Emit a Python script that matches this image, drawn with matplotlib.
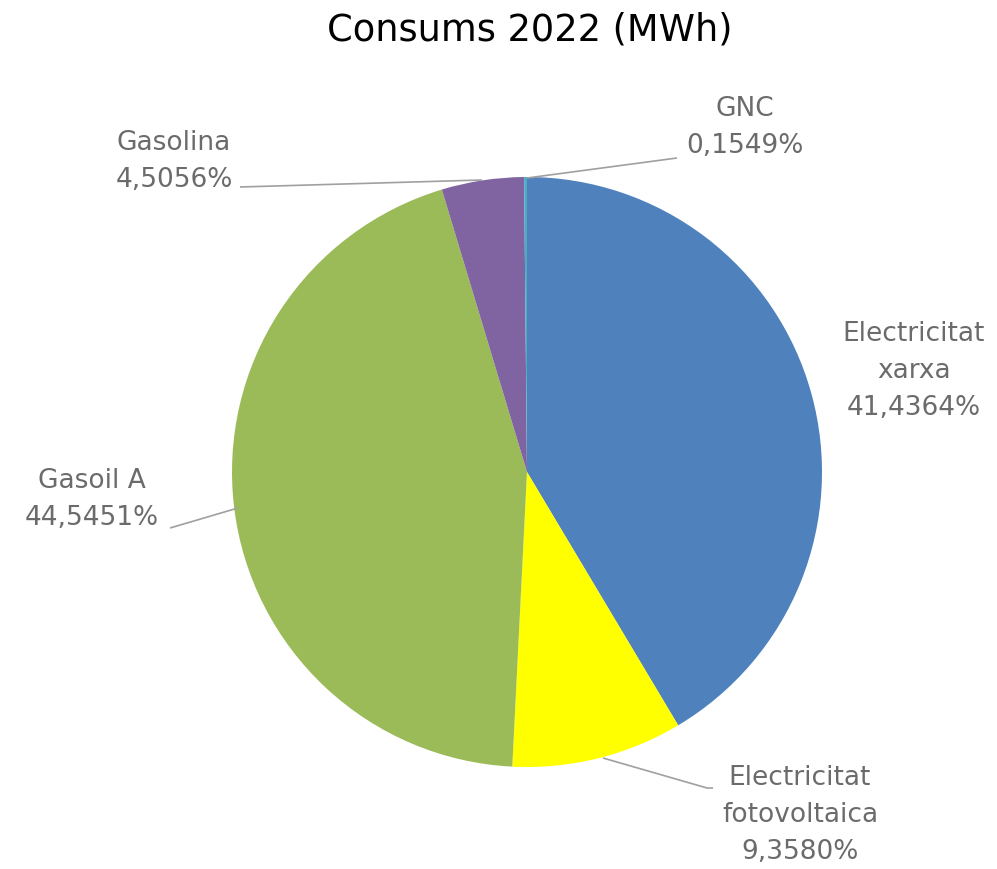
import matplotlib
matplotlib.use("Agg")
import matplotlib.pyplot as plt

# data
labels = ["Electricitat\nxarxa", "Electricitat\nfotovoltaica", "Gasoil A", "Gasolina", "GNC"]
shares = [41.4364, 9.3580, 44.5451, 4.5056, 0.1549]
colors = ["#4F81BD", "#FFFF00", "#9BBB59", "#8064A2", "#4BACC6"]

W, H = 997, 869
cx, cy, R = 527, 472, 295   # pie centre / radius in pixels

fig = plt.figure(figsize=(W / 100, H / 100), dpi=100)
ax = fig.add_axes([0, 0, 1, 1])

wedges, _ = ax.pie(shares, colors=colors, startangle=90, counterclock=False,
                   radius=1, center=(0, 0),
                   wedgeprops=dict(linewidth=0.4, edgecolor=None))

# map pixel space onto data space (1 unit = R px)
ax.set_xlim(-cx / R, (W - cx) / R)
ax.set_ylim((cy - H) / R, cy / R)
ax.set_aspect("equal", adjustable="box")
ax.axis("off")

def px(x, y):
    return ((x - cx) / R, (cy - y) / R)

txt_col = "#6b6b6b"
line_col = "#a0a0a0"
fs = 19

# label text positions (pixel centres) and leader line paths
label_pos = [(914, 371), (800, 815), (92, 500), (174, 162), (745, 127)]
leaders = [
    None,
    [(603, 758), (707, 788), (713, 788)],
    [(170, 528), (238, 508)],
    [(240, 187), (482, 180)],
    [(527, 178), (677, 158)],
]

for lab, val, pos, path in zip(labels, shares, label_pos, leaders):
    s = f"{lab}\n{val:.4f}%".replace(".", ",")
    x, y = px(*pos)
    ax.text(x, y, s, ha="center", va="center", fontsize=fs, color=txt_col,
            family="DejaVu Sans", linespacing=1.55)
    if path:
        xs, ys = zip(*[px(*p) for p in path])
        ax.plot(xs, ys, color=line_col, lw=1.2, solid_capstyle="butt")

tx, ty = px(530, 30)
ax.text(tx, ty, "Consums 2022 (MWh)", ha="center", va="center", fontsize=26.5,
        color="black", family="DejaVu Sans")

fig.savefig("out.png", dpi=100)
